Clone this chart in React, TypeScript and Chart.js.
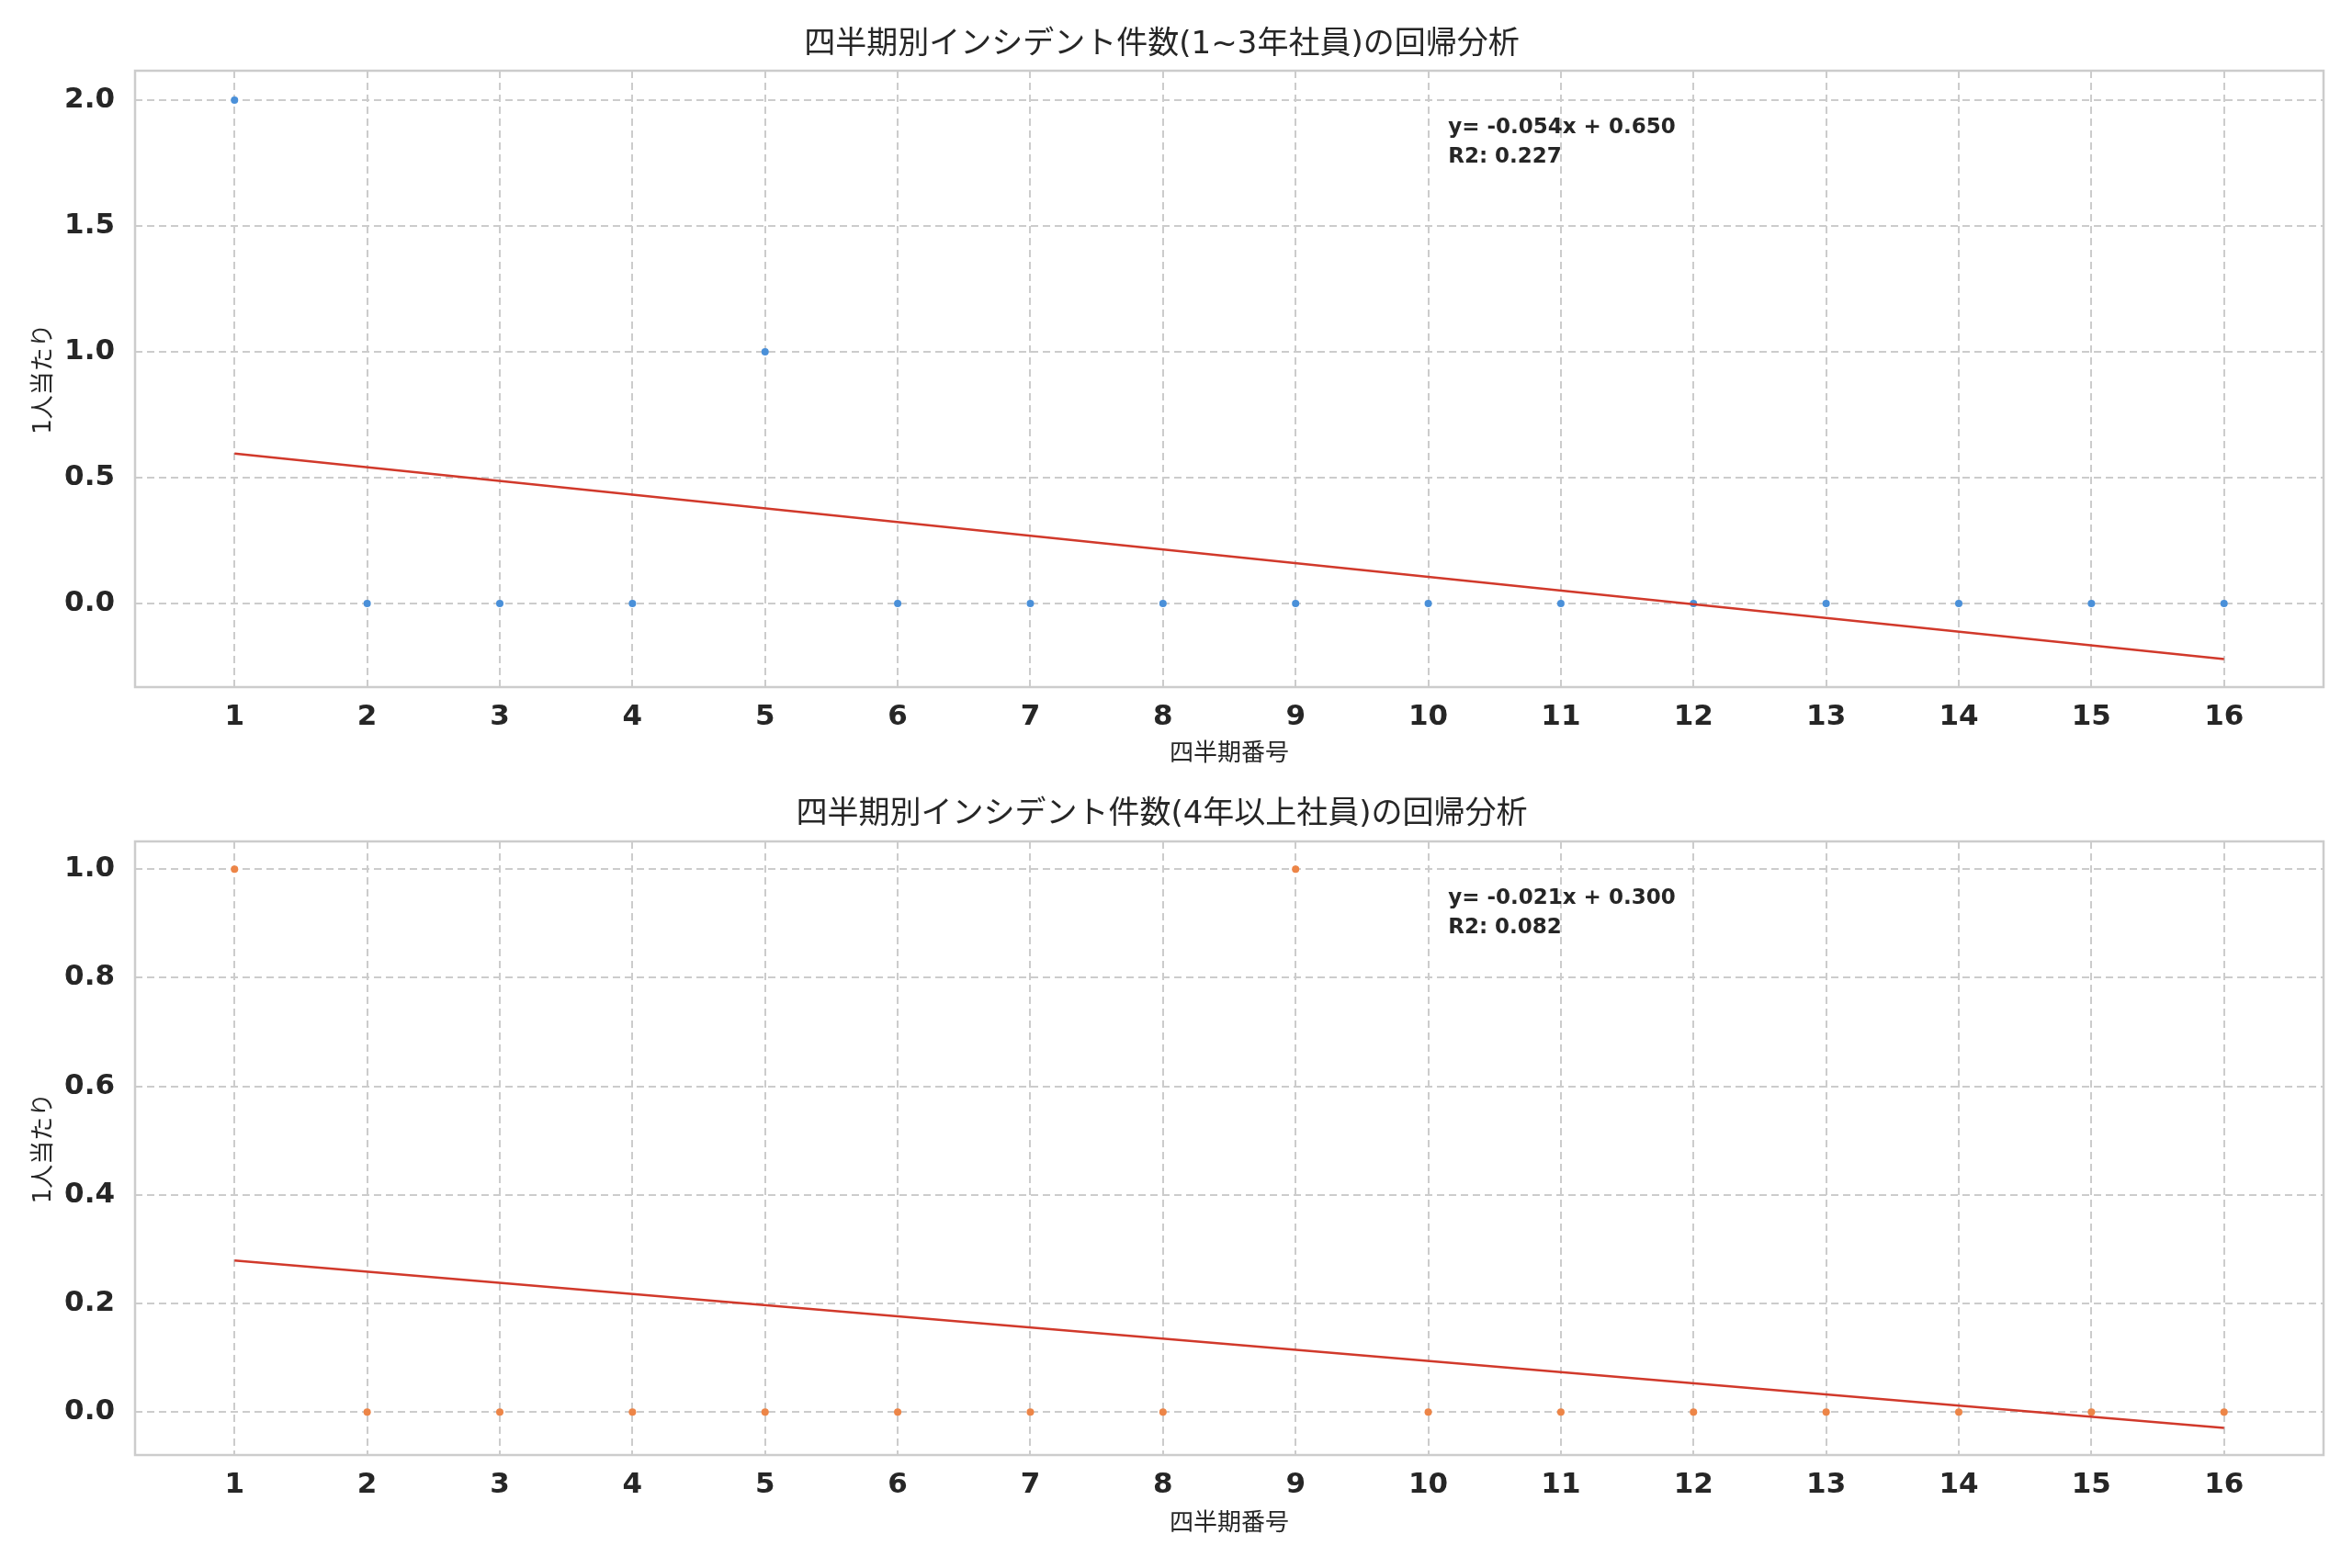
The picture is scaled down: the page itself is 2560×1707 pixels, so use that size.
import React, { useEffect, useRef } from 'react';
import { Chart, registerables } from 'chart.js';
import type { ChartConfiguration, Plugin } from 'chart.js';

Chart.register(...registerables);

// shared x positions (period number)
const xValues = [1, 2, 3, 4, 5, 6, 7, 8, 9, 10, 11, 12, 13, 14, 15, 16];

// upper panel: 1~3 year staff
const topValues = [2, 0, 0, 0, 1, 0, 0, 0, 0, 0, 0, 0, 0, 0, 0, 0];
const topFitEnds = [0.596, -0.221]; // trend line at x=1 and x=16
const topSlope = -0.054;
const topIntercept = 0.65;
const topR2 = 0.227;
const topYTicks = [0, 0.5, 1, 1.5, 2];

// lower panel: 4+ year staff
const bottomValues = [1, 0, 0, 0, 0, 0, 0, 0, 1, 0, 0, 0, 0, 0, 0, 0];
const bottomFitEnds = [0.279, -0.029];
const bottomSlope = -0.021;
const bottomIntercept = 0.3;
const bottomR2 = 0.082;
const bottomYTicks = [0, 0.2, 0.4, 0.6, 0.8, 1];

const FONT = '"DejaVu Sans", "Noto Sans CJK JP", sans-serif';
const TEXT = '#262626';
const GRID = '#cccccc';
const LINE_RED = '#d1392b';

interface PanelProps {
  title: string;
  values: number[];
  fitEnds: number[];
  color: string;
  slope: number;
  intercept: number;
  r2: number;
  yMin: number;
  yMax: number;
  yTicks: number[];
  height: number;
  areaBottom: number;
  titlePad: { top: number; bottom: number };
  xTitlePadBottom: number;
}

const framePlugin: Plugin = {
  id: 'frame',
  beforeDatasetsDraw(chart) {
    const { ctx, chartArea: a } = chart;
    ctx.save();
    ctx.strokeStyle = GRID;
    ctx.lineWidth = 2.5;
    ctx.strokeRect(a.left, a.top, a.right - a.left, a.bottom - a.top);
    ctx.restore();
  },
};

const Panel: React.FC<PanelProps> = (p) => {
  const canvasRef = useRef<HTMLCanvasElement>(null);
  const chartRef = useRef<Chart | null>(null);

  useEffect(() => {
    if (!canvasRef.current) return;
    if (chartRef.current) chartRef.current.destroy();

    const fitLine = [
      { x: xValues[0], y: p.fitEnds[0] },
      { x: xValues[xValues.length - 1], y: p.fitEnds[1] },
    ];

    const sign = p.intercept >= 0 ? '+' : '-';
    const noteLines = [
      `y= ${p.slope.toFixed(3)}x ${sign} ${Math.abs(p.intercept).toFixed(3)}`,
      `R2: ${p.r2.toFixed(3)}`,
    ];

    const notePlugin: Plugin = {
      id: 'note',
      afterDatasetsDraw(chart) {
        const { ctx, chartArea: a } = chart;
        ctx.save();
        ctx.font = `bold 23px ${FONT}`;
        ctx.fillStyle = TEXT;
        ctx.textBaseline = 'alphabetic';
        ctx.textAlign = 'left';
        const tx = a.left + 0.6 * (a.right - a.left);
        noteLines.forEach((t, i) => ctx.fillText(t, tx, a.top + 68 + i * 32));
        ctx.restore();
      },
    };

    const config: ChartConfiguration<'scatter'> = {
      type: 'scatter',
      data: {
        datasets: [
          {
            data: fitLine,
            showLine: true,
            borderColor: LINE_RED,
            borderWidth: 2.5,
            pointRadius: 0,
            order: 0,
          },
          {
            data: xValues.map((x, i) => ({ x, y: p.values[i] })),
            backgroundColor: p.color,
            borderWidth: 0,
            pointRadius: 4,
            order: 1,
          },
        ],
      },
      options: {
        animation: false,
        responsive: true,
        maintainAspectRatio: false,
        layout: { padding: { top: 0, left: 0, right: 31, bottom: 0 } },
        plugins: {
          legend: { display: false },
          tooltip: { enabled: false },
          title: {
            display: true,
            text: p.title,
            color: TEXT,
            font: { family: FONT, size: 34, weight: 'normal', lineHeight: 1.2 },
            padding: p.titlePad,
          },
        },
        scales: {
          x: {
            type: 'linear',
            min: 0.25,
            max: 16.75,
            afterBuildTicks: (s) => {
              s.ticks = xValues.map((v) => ({ value: v }));
            },
            afterFit: (s) => {
              s.height = p.height - p.areaBottom;
            },
            ticks: {
              color: TEXT,
              padding: 14,
              font: { family: FONT, size: 31, weight: 'bold' },
              callback: (v) => String(v),
            },
            grid: { color: GRID, lineWidth: 2, drawTicks: false },
            border: { display: false, dash: [8, 5] },
            title: {
              display: true,
              text: '四半期番号',
              color: TEXT,
              font: { family: FONT, size: 26, lineHeight: 1.2 },
              padding: { top: 0, bottom: p.xTitlePadBottom },
            },
          },
          y: {
            type: 'linear',
            min: p.yMin,
            max: p.yMax,
            afterBuildTicks: (s) => {
              s.ticks = p.yTicks.map((v) => ({ value: v }));
            },
            afterFit: (s) => {
              s.width = 147;
            },
            ticks: {
              color: TEXT,
              padding: 22,
              font: { family: FONT, size: 31, weight: 'bold' },
              callback: (v) => Number(v).toFixed(1),
            },
            grid: { color: GRID, lineWidth: 2, drawTicks: false },
            border: { display: false, dash: [8, 5] },
            title: {
              display: true,
              text: '1人当たり',
              color: TEXT,
              font: { family: FONT, size: 26, lineHeight: 1.2 },
              padding: { top: 33, bottom: 0 },
            },
          },
        },
      },
      plugins: [framePlugin, notePlugin],
    };

    chartRef.current = new Chart(canvasRef.current, config);
    return () => {
      if (chartRef.current) {
        chartRef.current.destroy();
        chartRef.current = null;
      }
    };
  }, []);

  return (
    <div style={{ position: 'relative', width: 2560, height: p.height }}>
      <canvas ref={canvasRef}></canvas>
    </div>
  );
};

const App: React.FC = () => {
  return (
    <div style={{ position: 'absolute', left: 0, top: 0, width: 2560, height: 1707, background: '#fff' }}>
      <Panel
        title="四半期別インシデント件数(1~3年社員)の回帰分析"
        values={topValues}
        fitEnds={topFitEnds}
        color="#4a90d9"
        slope={topSlope}
        intercept={topIntercept}
        r2={topR2}
        yMin={-0.332}
        yMax={2.117}
        yTicks={topYTicks}
        height={853}
        areaBottom={748}
        titlePad={{ top: 28.6, bottom: 7.6 }}
        xTitlePadBottom={16}
      />
      <Panel
        title="四半期別インシデント件数(4年以上社員)の回帰分析"
        values={bottomValues}
        fitEnds={bottomFitEnds}
        color="#ed8547"
        slope={bottomSlope}
        intercept={bottomIntercept}
        r2={bottomR2}
        yMin={-0.079}
        yMax={1.051}
        yTicks={bottomYTicks}
        height={854}
        areaBottom={731}
        titlePad={{ top: 13.6, bottom: 8.6 }}
        xTitlePadBottom={32}
      />
    </div>
  );
};

export default App;
